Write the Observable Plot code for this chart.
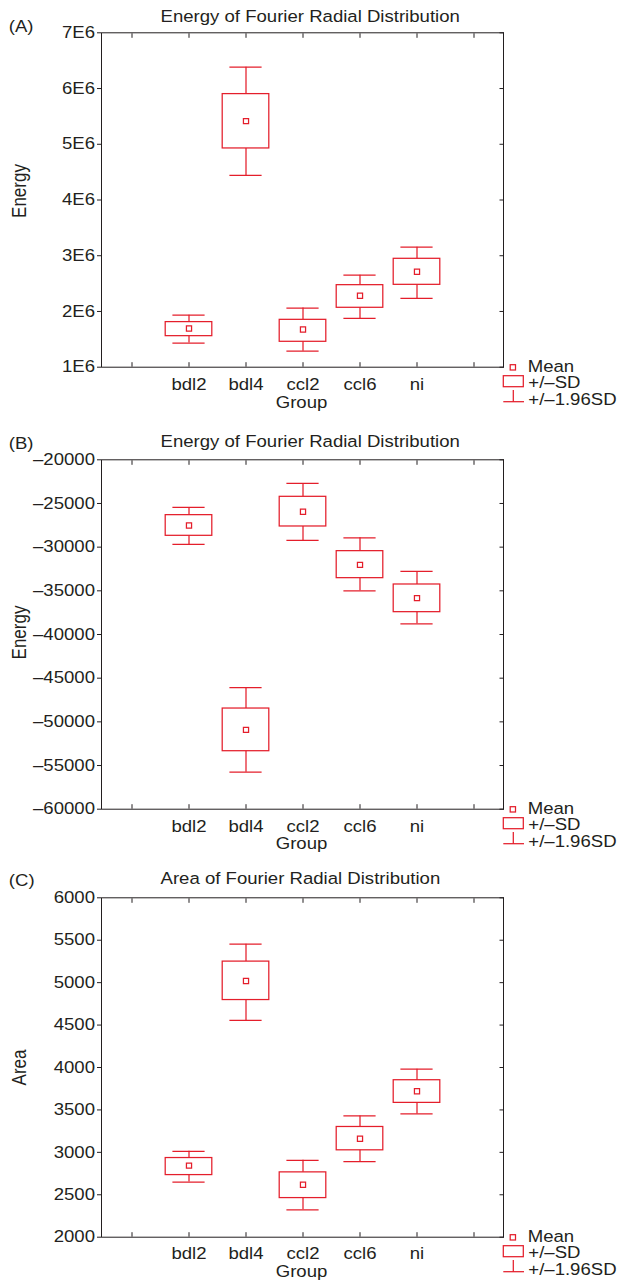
<!DOCTYPE html>
<html>
<head>
<meta charset="utf-8">
<script src="https://cdn.jsdelivr.net/npm/d3@7"></script>
<script src="https://cdn.jsdelivr.net/npm/@observablehq/plot@0.6"></script>
<style>
  html, body { margin: 0; padding: 0; background: #ffffff; }
  #root { position: relative; width: 618px; height: 1281px; overflow: hidden; background: #ffffff; }
  .panel { position: absolute; left: 0; }
  .legend { position: absolute; left: 0; pointer-events: none; }
</style>
</head>
<body>
<div id="root"></div>
<script>
// ---------- data ----------
const groups = ["bdl2", "bdl4", "ccl2", "ccl6", "ni"];
// one empty slot each side of the five groups on the x axis
const slots = ["\u200b", ...groups, "\u200b\u200b"];

// Panel A: Energy of Fourier Radial Distribution
const meanA   = [1.695e6, 5.415e6, 1.677e6, 2.281e6, 2.712e6];
const sdLowA  = [1.557e6, 4.925e6, 1.456e6, 2.066e6, 2.478e6];
const sdHighA = [1.809e6, 5.900e6, 1.850e6, 2.472e6, 2.945e6];
const ciLowA  = [1.432e6, 4.440e6, 1.288e6, 1.874e6, 2.233e6];
const ciHighA = [1.934e6, 6.384e6, 2.060e6, 2.652e6, 3.154e6];
const yTicksA = [1e6, 2e6, 3e6, 4e6, 5e6, 6e6, 7e6];
const yTickLabelsA = ["1E6", "2E6", "3E6", "4E6", "5E6", "6E6", "7E6"];

// Panel B: Energy of Fourier Radial Distribution
const meanB   = [-27519, -50918, -25954, -32023, -35840];
const sdLowB  = [-28702, -53361, -27634, -33550, -37443];
const sdHighB = [-26336, -48475, -24237, -30458, -34275];
const ciLowB  = [-29695, -55766, -29237, -35000, -38779];
const ciHighB = [-25458, -46069, -22710, -28932, -32786];
const yTicksB = [-60000, -55000, -50000, -45000, -40000, -35000, -30000, -25000, -20000];
const yTickLabelsB = ["\u201360000", "\u201355000", "\u201350000", "\u201345000", "\u201340000", "\u201335000", "\u201330000", "\u201325000", "\u201320000"];

// Panel C: Area of Fourier Radial Distribution
const meanC   = [2843, 5020, 2618, 3161, 3720];
const sdLowC  = [2732, 4795, 2461, 3024, 3583];
const sdHighC = [2933, 5248, 2764, 3299, 3850];
const ciLowC  = [2650, 4555, 2323, 2890, 3453];
const ciHighC = [3012, 5453, 2906, 3429, 3980];
const yTicksC = [2000, 2500, 3000, 3500, 4000, 4500, 5000, 5500, 6000];
const yTickLabelsC = ["2000", "2500", "3000", "3500", "4000", "4500", "5000", "5500", "6000"];

const legendLabels = ["Mean", "+/\u2013SD", "+/\u20131.96SD"];

// ---------- style ----------
const FONT = '"Liberation Sans", Arial, Helvetica, sans-serif';
const FS = 16.3;
const FS_YLABEL = 17;
const STRETCH = 1.14;
const INK = "#231f20";
const RED = "#e41e2b";
const SW = 1.25;
const W = 618, ML = 101, MR = 115;

const panels = [
  { top: 0, height: 420, mt: 32.3, mb: 53.3, label: "(A)", title: "Energy of Fourier Radial Distribution", yLabel: "Energy",
    domain: [1e6, 7e6], mean: meanA, sdLow: sdLowA, sdHigh: sdHighA, ciLow: ciLowA, ciHigh: ciHighA,
    ticks: yTicksA, tickLabels: yTickLabelsA, titleDy: -15.8, labelDy: -6, yLabelDy: -9, groupDy: 36, xPad: 16.2 },
  { top: 430, height: 430, mt: 29.3, mb: 51.3, label: "(B)", title: "Energy of Fourier Radial Distribution", yLabel: "Energy",
    domain: [-60000, -20000], mean: meanB, sdLow: sdLowB, sdHigh: sdHighB, ciLow: ciLowB, ciHigh: ciHighB,
    ticks: yTicksB, tickLabels: yTickLabelsB, titleDy: -17.8, labelDy: -16, yLabelDy: -2, groupDy: 35, xPad: 16.2 },
  { top: 860, height: 421, mt: 37.3, mb: 44.3, label: "(C)", title: "Area of Fourier Radial Distribution", yLabel: "Area",
    domain: [2000, 6000], mean: meanC, sdLow: sdLowC, sdHigh: sdHighC, ciLow: ciLowC, ciHigh: ciHighC,
    ticks: yTicksC, tickLabels: yTickLabelsC, titleDy: -19.2, labelDy: -17, yLabelDy: 0, groupDy: 35, xPad: 14.3 }
];

const root = document.getElementById("root");

// the source figure is slightly wider than tall: stretch glyphs horizontally on screen
function stretchText(svgNode) {
  svgNode.querySelectorAll("text").forEach(t => {
    const tr = t.getAttribute("transform");
    if (tr === null) return;
    const rotated = /rotate\(\s*-?90/.test(tr);
    t.setAttribute("transform", tr + (rotated ? ` scale(1,${STRETCH})` : ` scale(${STRETCH},1)`));
  });
}

for (const p of panels) {
  const rows = groups.map((g, i) => ({
    group: g, mean: p.mean[i], sdLow: p.sdLow[i], sdHigh: p.sdHigh[i], ciLow: p.ciLow[i], ciHigh: p.ciHigh[i]
  }));
  const labelOf = new Map(p.ticks.map((t, i) => [t, p.tickLabels[i]]));

  const chart = Plot.plot({
    width: W, height: p.height,
    marginLeft: ML, marginRight: MR, marginTop: p.mt, marginBottom: p.mb,
    style: { fontFamily: FONT, fontSize: FS + "px", color: INK, background: "transparent", overflow: "visible" },
    x: { type: "band", domain: slots, padding: 0, align: 0.5 },
    y: { type: "linear", domain: p.domain },
    marks: [
      Plot.frame({ stroke: INK, strokeWidth: 1 }),
      Plot.axisY({ anchor: "left", ticks: p.ticks, tickFormat: d => labelOf.get(d), tickSize: 4, tickPadding: 2.5, label: null, stroke: INK, fill: INK }),
      Plot.axisY({ anchor: "right", ticks: p.ticks, tickFormat: () => "", tickSize: -4.5, label: null, stroke: INK }),
      Plot.axisX({ anchor: "top", tickFormat: () => "", tickSize: -4.5, label: null, stroke: INK }),
      Plot.axisX({ anchor: "bottom", tickFormat: d => (groups.includes(d) ? d : ""), tickSize: -4.5, tickPadding: p.xPad, label: null, stroke: INK, fill: INK }),
      // whiskers (+/-1.96SD)
      Plot.ruleX(rows, { x: "group", y1: "ciLow", y2: "sdLow", stroke: RED, strokeWidth: SW }),
      Plot.ruleX(rows, { x: "group", y1: "sdHigh", y2: "ciHigh", stroke: RED, strokeWidth: SW }),
      Plot.tickY(rows, { x: "group", y: "ciLow", stroke: RED, strokeWidth: SW, insetLeft: 12.4, insetRight: 12.4 }),
      Plot.tickY(rows, { x: "group", y: "ciHigh", stroke: RED, strokeWidth: SW, insetLeft: 12.4, insetRight: 12.4 }),
      // boxes (+/-SD)
      Plot.barY(rows, { x: "group", y1: "sdLow", y2: "sdHigh", fill: "none", stroke: RED, strokeWidth: SW, insetLeft: 5.2, insetRight: 5.2 }),
      // mean
      Plot.dot(rows, { x: "group", y: "mean", symbol: "square", r: 2.9, fill: "none", stroke: RED, strokeWidth: SW }),
      // texts
      Plot.text([p.title], { text: d => d, frameAnchor: "top-left", textAnchor: "start", lineAnchor: "middle", dx: 59, dy: p.titleDy, fill: INK }),
      Plot.text([p.label], { text: d => d, frameAnchor: "top-left", textAnchor: "start", lineAnchor: "middle", dx: -92.7, dy: p.labelDy, fill: INK }),
      Plot.text([p.yLabel], { text: d => d, frameAnchor: "left", textAnchor: "middle", lineAnchor: "middle", rotate: -90, dx: -81.5, dy: p.yLabelDy, fill: INK, fontSize: FS_YLABEL }),
      Plot.text(["Group"], { text: d => d, frameAnchor: "bottom", textAnchor: "middle", lineAnchor: "middle", dx: -1, dy: p.groupDy, fill: INK })
    ]
  });
  stretchText(chart);
  chart.classList.add("panel");
  chart.style.top = p.top + "px";
  root.appendChild(chart);

  // legend, placed at the lower right corner of the frame
  const fb = p.top + p.mt + (p.height - p.mt - p.mb);
  const frameRight = W - MR;
  const lg = d3.create("svg")
    .attr("class", "legend")
    .attr("width", W).attr("height", 1281)
    .style("top", "0px");
  const g = lg.append("g").attr("fill", "none").attr("stroke", RED).attr("stroke-width", SW);
  // mean symbol
  g.append("rect").attr("x", frameRight + 7.2).attr("y", fb - 2).attr("width", 5.3).attr("height", 5.3);
  // SD box symbol
  g.append("rect").attr("x", frameRight + 0.3).attr("y", fb + 9).attr("width", 20).attr("height", 11);
  // 1.96SD whisker symbol
  g.append("line").attr("x1", frameRight + 10.3).attr("x2", frameRight + 10.3).attr("y1", fb + 23.3).attr("y2", fb + 35);
  g.append("line").attr("x1", frameRight + 0.3).attr("x2", frameRight + 21).attr("y1", fb + 35).attr("y2", fb + 35);
  const baselines = [fb + 5, fb + 21.6, fb + 38.3];
  const xs = [frameRight + 24.7, frameRight + 25.3, frameRight + 25.3];
  legendLabels.forEach((s, i) => {
    lg.append("text")
      .attr("transform", `translate(${xs[i]},${baselines[i]}) scale(${STRETCH},1)`)
      .attr("font-family", FONT).attr("font-size", FS).attr("fill", INK)
      .text(s);
  });
  root.appendChild(lg.node());
}
</script>
</body>
</html>
